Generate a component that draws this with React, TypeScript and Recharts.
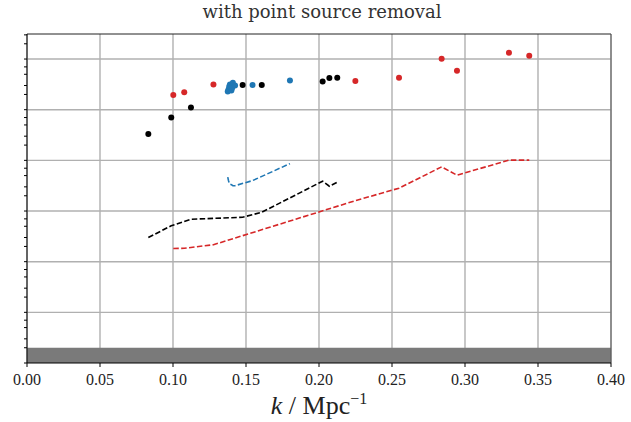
import { CartesianGrid, ComposedChart, Line, ReferenceArea, ReferenceLine, Scatter, XAxis, YAxis } from "recharts";

// k values (Mpc^-1) and measured power for each field
const kBlack = [0.0831, 0.0988, 0.1123, 0.1477, 0.1608, 0.2025, 0.2071, 0.2125];
const pBlack = [33000, 70500, 111000, 306000, 306000, 362000, 422000, 428000];
const nBlack = [299, 512, 689, 753, 946, 3880, 3090, 3707];

const kRed = [0.1002, 0.1077, 0.1277, 0.2249, 0.2548, 0.284, 0.2945, 0.3301, 0.344];
const pRed = [194500, 220000, 313000, 367000, 427000, 1014000, 587000, 1334000, 1161000];
const nRed = [182, 184, 216, 1600, 2825, 7450, 5105, 10090, 10090];

const kBlue = [0.1375, 0.138, 0.1385, 0.139, 0.14, 0.1405, 0.141, 0.1425, 0.1545, 0.1801];
const pBlue = [229000, 251000, 288000, 316000, 240000, 269000, 339000, 302000, 306000, 376000];
const nBlue = [4656, 4000, 3540, 3388, 3300, 3236, 3162, 3162, 3990, 8610];

const xTicks = [0, 0.05, 0.1, 0.15, 0.2, 0.25, 0.3, 0.35, 0.4];
const decades = [1, 10, 100, 1000, 10000, 100000, 1000000];
const yTop = 3.12e6;
const bandTop = 2;

const RED = "#d62728";
const BLUE = "#1f77b4";
const BLACK = "#000000";

const pts = (ks: number[], vs: number[]) => ks.map((k, i) => ({ k, v: vs[i] }));

const yTicks: number[] = [];
decades.forEach((d) => {
  for (let m = 1; m <= 9; m++) {
    if (d * m <= yTop) yTicks.push(d * m);
  }
});

const dot = (color: string) => (props: any) => (
  <circle cx={props.cx} cy={props.cy} r={3} fill={color} />
);

export default function App() {
  return (
    <div style={{ position: "relative", width: 631, height: 422, background: "#fff" }}>
      <style>{`body { margin: 0; }`}</style>
      <div
        style={{
          position: "absolute",
          top: 1,
          left: 30,
          width: 584,
          textAlign: "center",
          fontFamily: "'DejaVu Serif', serif",
          fontSize: 18,
          color: "#333",
        }}
      >
        with point source removal
      </div>
      <ComposedChart width={631} height={422} margin={{ top: 34, right: 20, bottom: 0, left: 0 }}>
        <CartesianGrid horizontal={false} stroke="#b0b0b0" strokeWidth={1.4} verticalValues={xTicks} />
        {decades.slice(1).map((d) => (
          <ReferenceLine key={d} y={d} stroke="#b0b0b0" strokeWidth={1.4} />
        ))}
        <ReferenceArea y1={1} y2={bandTop} fill="#7a7a7a" fillOpacity={1} stroke="none" />
        <ReferenceLine y={yTop} stroke="#222" strokeWidth={1} />
        <ReferenceLine x={0.4} stroke="#555" strokeWidth={1} />
        <XAxis
          type="number"
          dataKey="k"
          domain={[0, 0.4]}
          ticks={xTicks}
          tickFormatter={(v) => v.toFixed(2)}
          height={59}
          tickSize={4}
          tickMargin={7}
          stroke="#000"
          tick={{ fill: "#222", fontSize: 16, fontFamily: "'Liberation Serif', serif" }}
          allowDataOverflow
        />
        <YAxis
          type="number"
          dataKey="v"
          scale="log"
          domain={[1, yTop]}
          ticks={yTicks}
          tickFormatter={() => ""}
          width={27}
          tickSize={3}
          stroke="#000"
          allowDataOverflow
        />
        <Line data={pts(kRed, nRed)} dataKey="v" type="linear" stroke={RED} strokeWidth={1.6} strokeDasharray="5.5 2.4" dot={false} isAnimationActive={false} />
        <Line data={pts(kBlack, nBlack)} dataKey="v" type="linear" stroke={BLACK} strokeWidth={1.6} strokeDasharray="5.5 2.4" dot={false} isAnimationActive={false} />
        <Line data={pts(kBlue, nBlue)} dataKey="v" type="linear" stroke={BLUE} strokeWidth={1.6} strokeDasharray="5.5 2.4" dot={false} isAnimationActive={false} />
        <Scatter data={pts(kRed, pRed)} shape={dot(RED)} isAnimationActive={false} />
        <Scatter data={pts(kBlack, pBlack)} shape={dot(BLACK)} isAnimationActive={false} />
        <Scatter data={pts(kBlue, pBlue)} shape={dot(BLUE)} isAnimationActive={false} />
      </ComposedChart>
      <div
        style={{
          position: "absolute",
          top: 391,
          left: 27,
          width: 584,
          textAlign: "center",
          fontFamily: "'Liberation Serif', serif",
          fontSize: 26,
          lineHeight: "30px",
          color: "#222",
        }}
      >
        <i>k</i> / Mpc<sup style={{ fontSize: 16, lineHeight: 0 }}>−1</sup>
      </div>
    </div>
  );
}
